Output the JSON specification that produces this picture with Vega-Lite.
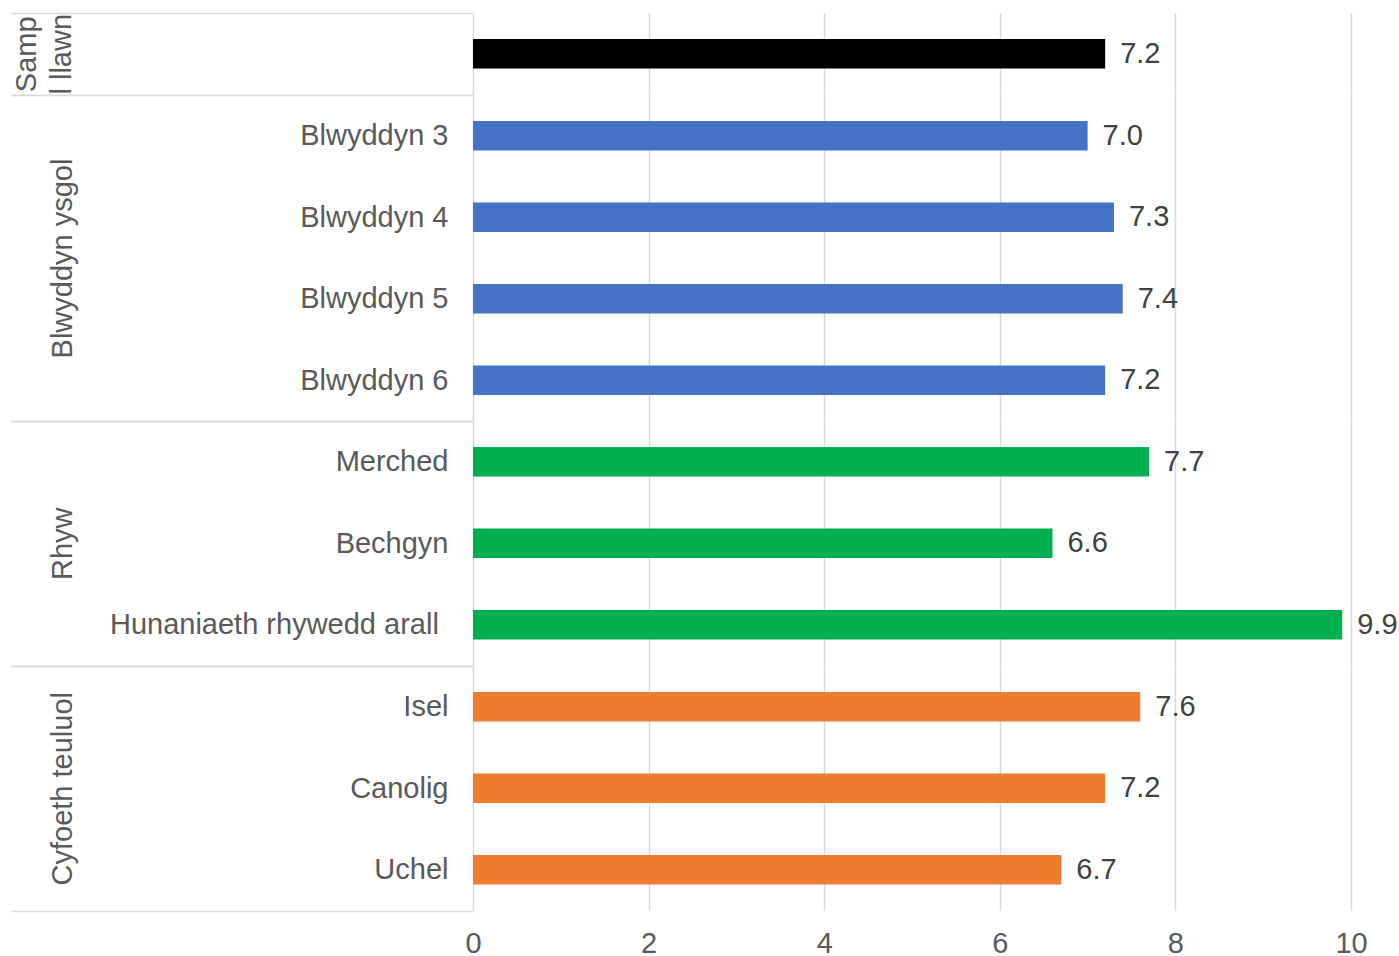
{
  "$schema": "https://vega.github.io/schema/vega-lite/v6.json",
  "background": "white",
  "padding": {"left": 10, "top": 12, "right": 0, "bottom": 0},
  "data": {"values": [
    {"group": "Sampl llawn", "item": "Sampl llawn", "value": 7.2},
    {"group": "Blwyddyn ysgol", "item": "Blwyddyn 3", "value": 7.0},
    {"group": "Blwyddyn ysgol", "item": "Blwyddyn 4", "value": 7.3},
    {"group": "Blwyddyn ysgol", "item": "Blwyddyn 5", "value": 7.4},
    {"group": "Blwyddyn ysgol", "item": "Blwyddyn 6", "value": 7.2},
    {"group": "Rhyw", "item": "Merched", "value": 7.7},
    {"group": "Rhyw", "item": "Bechgyn", "value": 6.6},
    {"group": "Rhyw", "item": "Hunaniaeth rhywedd arall\u2004\u200b", "value": 9.9},
    {"group": "Cyfoeth teuluol", "item": "Isel", "value": 7.6},
    {"group": "Cyfoeth teuluol", "item": "Canolig", "value": 7.2},
    {"group": "Cyfoeth teuluol", "item": "Uchel", "value": 6.7}
  ]},
  "spacing": 0,
  "bounds": "flush",
  "vconcat": [
    {
      "width": 878, "height": 81.5,
      "transform": [{"filter": "datum.group == 'Sampl llawn'"}],
      "encoding": {
        "y": {"field": "item", "type": "nominal", "sort": null, "scale": {"padding": 0},
              "axis": {"title": ["Samp", "l llawn"], "titleX": -432, "labels": false,
                       "tickOpacity": {"condition": {"test": "datum.extra || datum.value == 'Sampl llawn'", "value": 1}, "value": 0}}},
        "x": {"field": "value", "type": "quantitative", "scale": {"domain": [0, 10], "nice": false},
              "axis": {"values": [0, 2, 4, 6, 8, 10], "labels": false, "title": null}}
      },
      "layer": [
        {"mark": {"type": "bar", "height": {"band": 0.36}},
         "encoding": {"color": {"field": "group", "type": "nominal", "legend": null,
            "scale": {"domain": ["Sampl llawn", "Blwyddyn ysgol", "Rhyw", "Cyfoeth teuluol"], "range": ["#000000", "#4472C4", "#00B050", "#ED7D31"]}}}},
        {"mark": {"type": "text", "align": "left", "baseline": "middle", "dx": 15},
         "encoding": {"text": {"field": "value", "type": "quantitative", "format": ".1f"}}}
      ]
    },
    {
      "width": 878, "height": 326,
      "transform": [{"filter": "datum.group == 'Blwyddyn ysgol'"}],
      "encoding": {
        "y": {"field": "item", "type": "nominal", "sort": null, "scale": {"padding": 0},
              "axis": {"title": "Blwyddyn ysgol",
                       "tickOpacity": {"condition": {"test": "datum.extra || datum.value == 'Blwyddyn 6'", "value": 1}, "value": 0}}},
        "x": {"field": "value", "type": "quantitative", "scale": {"domain": [0, 10], "nice": false},
              "axis": {"values": [0, 2, 4, 6, 8, 10], "labels": false, "title": null}}
      },
      "layer": [
        {"mark": {"type": "bar", "height": {"band": 0.36}},
         "encoding": {"color": {"field": "group", "type": "nominal", "legend": null,
            "scale": {"domain": ["Sampl llawn", "Blwyddyn ysgol", "Rhyw", "Cyfoeth teuluol"], "range": ["#000000", "#4472C4", "#00B050", "#ED7D31"]}}}},
        {"mark": {"type": "text", "align": "left", "baseline": "middle", "dx": 15},
         "encoding": {"text": {"field": "value", "type": "quantitative", "format": ".1f"}}}
      ]
    },
    {
      "width": 878, "height": 244.5,
      "transform": [{"filter": "datum.group == 'Rhyw'"}],
      "encoding": {
        "y": {"field": "item", "type": "nominal", "sort": null, "scale": {"padding": 0},
              "axis": {"title": "Rhyw",
                       "tickOpacity": {"condition": {"test": "datum.extra || datum.value == 'Hunaniaeth rhywedd arall\u2004\u200b'", "value": 1}, "value": 0}}},
        "x": {"field": "value", "type": "quantitative", "scale": {"domain": [0, 10], "nice": false},
              "axis": {"values": [0, 2, 4, 6, 8, 10], "labels": false, "title": null}}
      },
      "layer": [
        {"mark": {"type": "bar", "height": {"band": 0.36}},
         "encoding": {"color": {"field": "group", "type": "nominal", "legend": null,
            "scale": {"domain": ["Sampl llawn", "Blwyddyn ysgol", "Rhyw", "Cyfoeth teuluol"], "range": ["#000000", "#4472C4", "#00B050", "#ED7D31"]}}}},
        {"mark": {"type": "text", "align": "left", "baseline": "middle", "dx": 15},
         "encoding": {"text": {"field": "value", "type": "quantitative", "format": ".1f"}}}
      ]
    },
    {
      "width": 878, "height": 244.5,
      "transform": [{"filter": "datum.group == 'Cyfoeth teuluol'"}],
      "encoding": {
        "y": {"field": "item", "type": "nominal", "sort": null, "scale": {"padding": 0},
              "axis": {"title": "Cyfoeth teuluol",
                       "tickOpacity": {"condition": {"test": "datum.extra || datum.value == 'Uchel'", "value": 1}, "value": 0}}},
        "x": {"field": "value", "type": "quantitative", "scale": {"domain": [0, 10], "nice": false},
              "axis": {"values": [0, 2, 4, 6, 8, 10], "title": null}}
      },
      "layer": [
        {"mark": {"type": "bar", "height": {"band": 0.36}},
         "encoding": {"color": {"field": "group", "type": "nominal", "legend": null,
            "scale": {"domain": ["Sampl llawn", "Blwyddyn ysgol", "Rhyw", "Cyfoeth teuluol"], "range": ["#000000", "#4472C4", "#00B050", "#ED7D31"]}}}},
        {"mark": {"type": "text", "align": "left", "baseline": "middle", "dx": 15},
         "encoding": {"text": {"field": "value", "type": "quantitative", "format": ".1f"}}}
      ]
    }
  ],
  "config": {
    "view": {"stroke": null},
    "axis": {"labelFont": "Liberation Sans", "labelFontSize": 29, "labelColor": "#595959",
             "titleFont": "Liberation Sans", "titleFontSize": 29, "titleColor": "#595959", "titleFontWeight": "normal",
             "gridColor": "#d9d9d9", "gridWidth": 1.5, "domain": false},
    "axisY": {"tickBand": "extent", "tickSize": 462, "tickColor": "#d9d9d9", "tickWidth": 1.5,
              "labelPadding": -437, "labelLimit": 600, "grid": false,
              "titleX": -396, "titleBaseline": "bottom", "titleLineHeight": 35, "titleAngle": -90},
    "axisX": {"ticks": false, "labelPadding": 19, "labelFlush": false, "grid": true},
    "text": {"font": "Liberation Sans", "fontSize": 29, "fill": "#404040"}
  }
}
